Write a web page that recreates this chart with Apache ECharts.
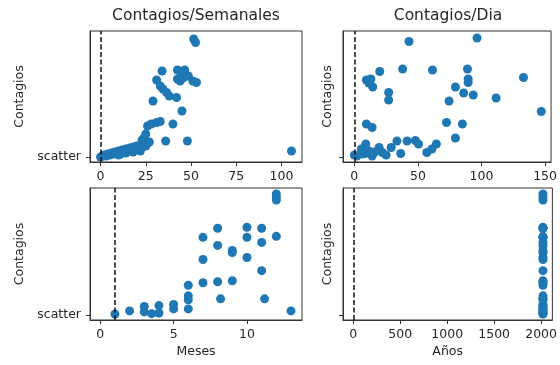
<!DOCTYPE html>
<html>
<head>
<meta charset="utf-8">
<script src="https://cdn.jsdelivr.net/npm/echarts@6/dist/echarts.min.js"></script>
<style>
  html, body { margin: 0; padding: 0; background: #fff; }
  #chart { width: 560px; height: 365px; }
</style>
</head>
<body>
<div id="chart"></div>
<script>
// Weekly cases: [week, cases]
const weekPoints = [
  [0,0],[1,1],[2,2],[3,1],[4,3],[5,2],[6,4],[7,3],[8,5],[9,4],[10,6],[11,3],[12,7],[13,5],
  [14,8],[15,6],[16,9],[17,7],[18,10],[19,8],[20,11],[21,9],[22,12],[23,10],[24,13],[25,11],
  [26,14],[23,17],[24,19],[25,23],[27,15],[22,6],[18,5],[14,4],[10,2],
  [26,31],[28,33],[31,34.5],[33,35.5],[36,16],[48,16],[40,33],[45,46],[29,56],[31,77],
  [33,71],[34.5,68],[36.5,64.5],[38,61],[42,59.5],[34,86],[42.5,87],[46.5,87],[45,83],
  [42.5,78],[44,76],[46,79.5],[48.5,81],[51,76],[53,74.5],[51.5,118],[52.5,114.5],[105.5,6]
];

// Daily cases: [day, cases]
const dayPoints = [
  [43,115.5],[96.5,119],[20,85.5],[38,88],[61.5,87],[9.5,77],[13,78],[14.5,70],[11.5,74],
  [27,64.5],[27,57],[89,88],[89.5,78],[89.5,74.5],[79.5,70],[86,64],[93.5,62],[74.5,56],
  [111.5,59],[133,79.5],[147,45.5],[9.5,33],[14,29.5],[72.5,34.5],[85,33],[79.5,19],
  [33.5,16],[41.5,16],[48,16.5],[50.5,13],[57,4.5],[61,8],[64.5,13],[36.5,3.5],[29,9.5],
  [22,4.5],[19.5,9.5],[9,13],[5.5,8],[0,2],[2,1],[6,3],[8.5,3.5],[11.5,6],[14,1],[16,5],[25,2]
];

// Monthly cases: [month, cases]
const monthPoints = [
  [1,1],[2,4],[3,8.5],[3,3],[3.5,1.3],[4,9.3],[4,2],[5,10.5],[5,6],[6,29.5],[6,19],[6,15],[6,6],
  [7,77],[7,55],[7,32],[8,86],[8,69],[8,33],[8.2,16],[9,64],[9,62],[9,34],[10,87],[10,77],
  [10,57],[11,86],[11,72],[11,44],[11.2,16],[12,120],[12,117],[12,114],[12,78],[13,4]
];

// Yearly view: every record falls in 2020
const yearValue = 2020;
const yearCases = monthPoints.map(p => p[1]);

// Tick labels
const weekTicks = [0, 25, 50, 75, 100];
const dayTicks = [0, 50, 100, 150];
const monthTicks = [0, 5, 10];
const yearTicks = [0, 500, 1000, 1500, 2000];
const caseTicks = [0];
const caseTickLabel = 'scatter';

// Reference lines
const weekRef = 0, dayRef = 0, monthRef = 1, yearRef = 0;

const BLUE = '#1f77b4';
const INK = '#262626';
const FONT = 'DejaVu Sans';

const grids = [
  { left: 90,  top: 31,  width: 212, height: 131 },
  { left: 343, top: 31,  width: 211, height: 131 },
  { left: 90,  top: 188, width: 212, height: 132 },
  { left: 343, top: 188, width: 211, height: 132 }
].map(g => Object.assign({ show: true, borderColor: '#333', borderWidth: 1, backgroundColor: '#fff' }, g));

function xAxis(gi, min, max, ticks, name) {
  return {
    type: 'value', gridIndex: gi, min: min, max: max,
    name: name || '', nameLocation: 'middle', nameGap: 25,
    nameTextStyle: { fontFamily: FONT, fontSize: 12.5, color: INK },
    splitLine: { show: false },
    axisLine: { show: true, onZero: false, lineStyle: { color: '#333', width: 1 } },
    axisTick: { show: true, length: 4, customValues: ticks, lineStyle: { color: '#333' } },
    axisLabel: {
      customValues: ticks, margin: 8, formatter: v => String(v),
      fontFamily: FONT, fontSize: 12.5, color: INK
    },
    z: 5
  };
}

function yAxis(gi, showLabel, gap) {
  return {
    type: 'value', gridIndex: gi, min: -5, max: 126,
    name: 'Contagios', nameLocation: 'middle', nameGap: gap,
    nameTextStyle: { fontFamily: FONT, fontSize: 12.5, color: INK },
    splitLine: { show: false },
    axisLine: { show: true, onZero: false, lineStyle: { color: '#333', width: 1 } },
    axisTick: { show: true, length: 4, customValues: caseTicks, lineStyle: { color: '#333' } },
    axisLabel: {
      show: showLabel, customValues: caseTicks, margin: 9,
      formatter: () => caseTickLabel, fontFamily: FONT, fontSize: 12.5, color: INK
    },
    z: 5
  };
}

function scatter(gi, data, refX) {
  return {
    type: 'scatter', xAxisIndex: gi, yAxisIndex: gi, data: data,
    symbolSize: 9, itemStyle: { color: BLUE, opacity: 1 },
    emphasis: { disabled: true },
    markLine: {
      silent: true, symbol: 'none', label: { show: false },
      lineStyle: { type: [5, 2.5], color: '#111', width: 1.5 },
      data: [{ xAxis: refX }]
    }
  };
}

const chart = echarts.init(document.getElementById('chart'), null, { renderer: 'canvas' });
chart.setOption({
  animation: false,
  backgroundColor: '#fff',
  title: [
    { text: 'Contagios/Semanales', left: 196, top: 8, textAlign: 'center', padding: 0,
      textStyle: { fontFamily: FONT, fontSize: 15.5, fontWeight: 'normal', color: INK } },
    { text: 'Contagios/Dia', left: 448, top: 8, textAlign: 'center', padding: 0,
      textStyle: { fontFamily: FONT, fontSize: 15.5, fontWeight: 'normal', color: INK } }
  ],
  grid: grids,
  xAxis: [
    xAxis(0, -5.8, 111.3, weekTicks),
    xAxis(1, -8.9, 154.7, dayTicks),
    xAxis(2, -0.7, 13.75, monthTicks, 'Meses'),
    xAxis(3, -110, 2120, yearTicks, 'Años')
  ],
  yAxis: [
    yAxis(0, true, 64),
    yAxis(1, false, 9),
    yAxis(2, true, 64),
    yAxis(3, false, 9)
  ],
  series: [
    scatter(0, weekPoints, weekRef),
    scatter(1, dayPoints, dayRef),
    scatter(2, monthPoints, monthRef),
    scatter(3, yearCases.map(v => [yearValue, v]), yearRef)
  ]
});
</script>
</body>
</html>
